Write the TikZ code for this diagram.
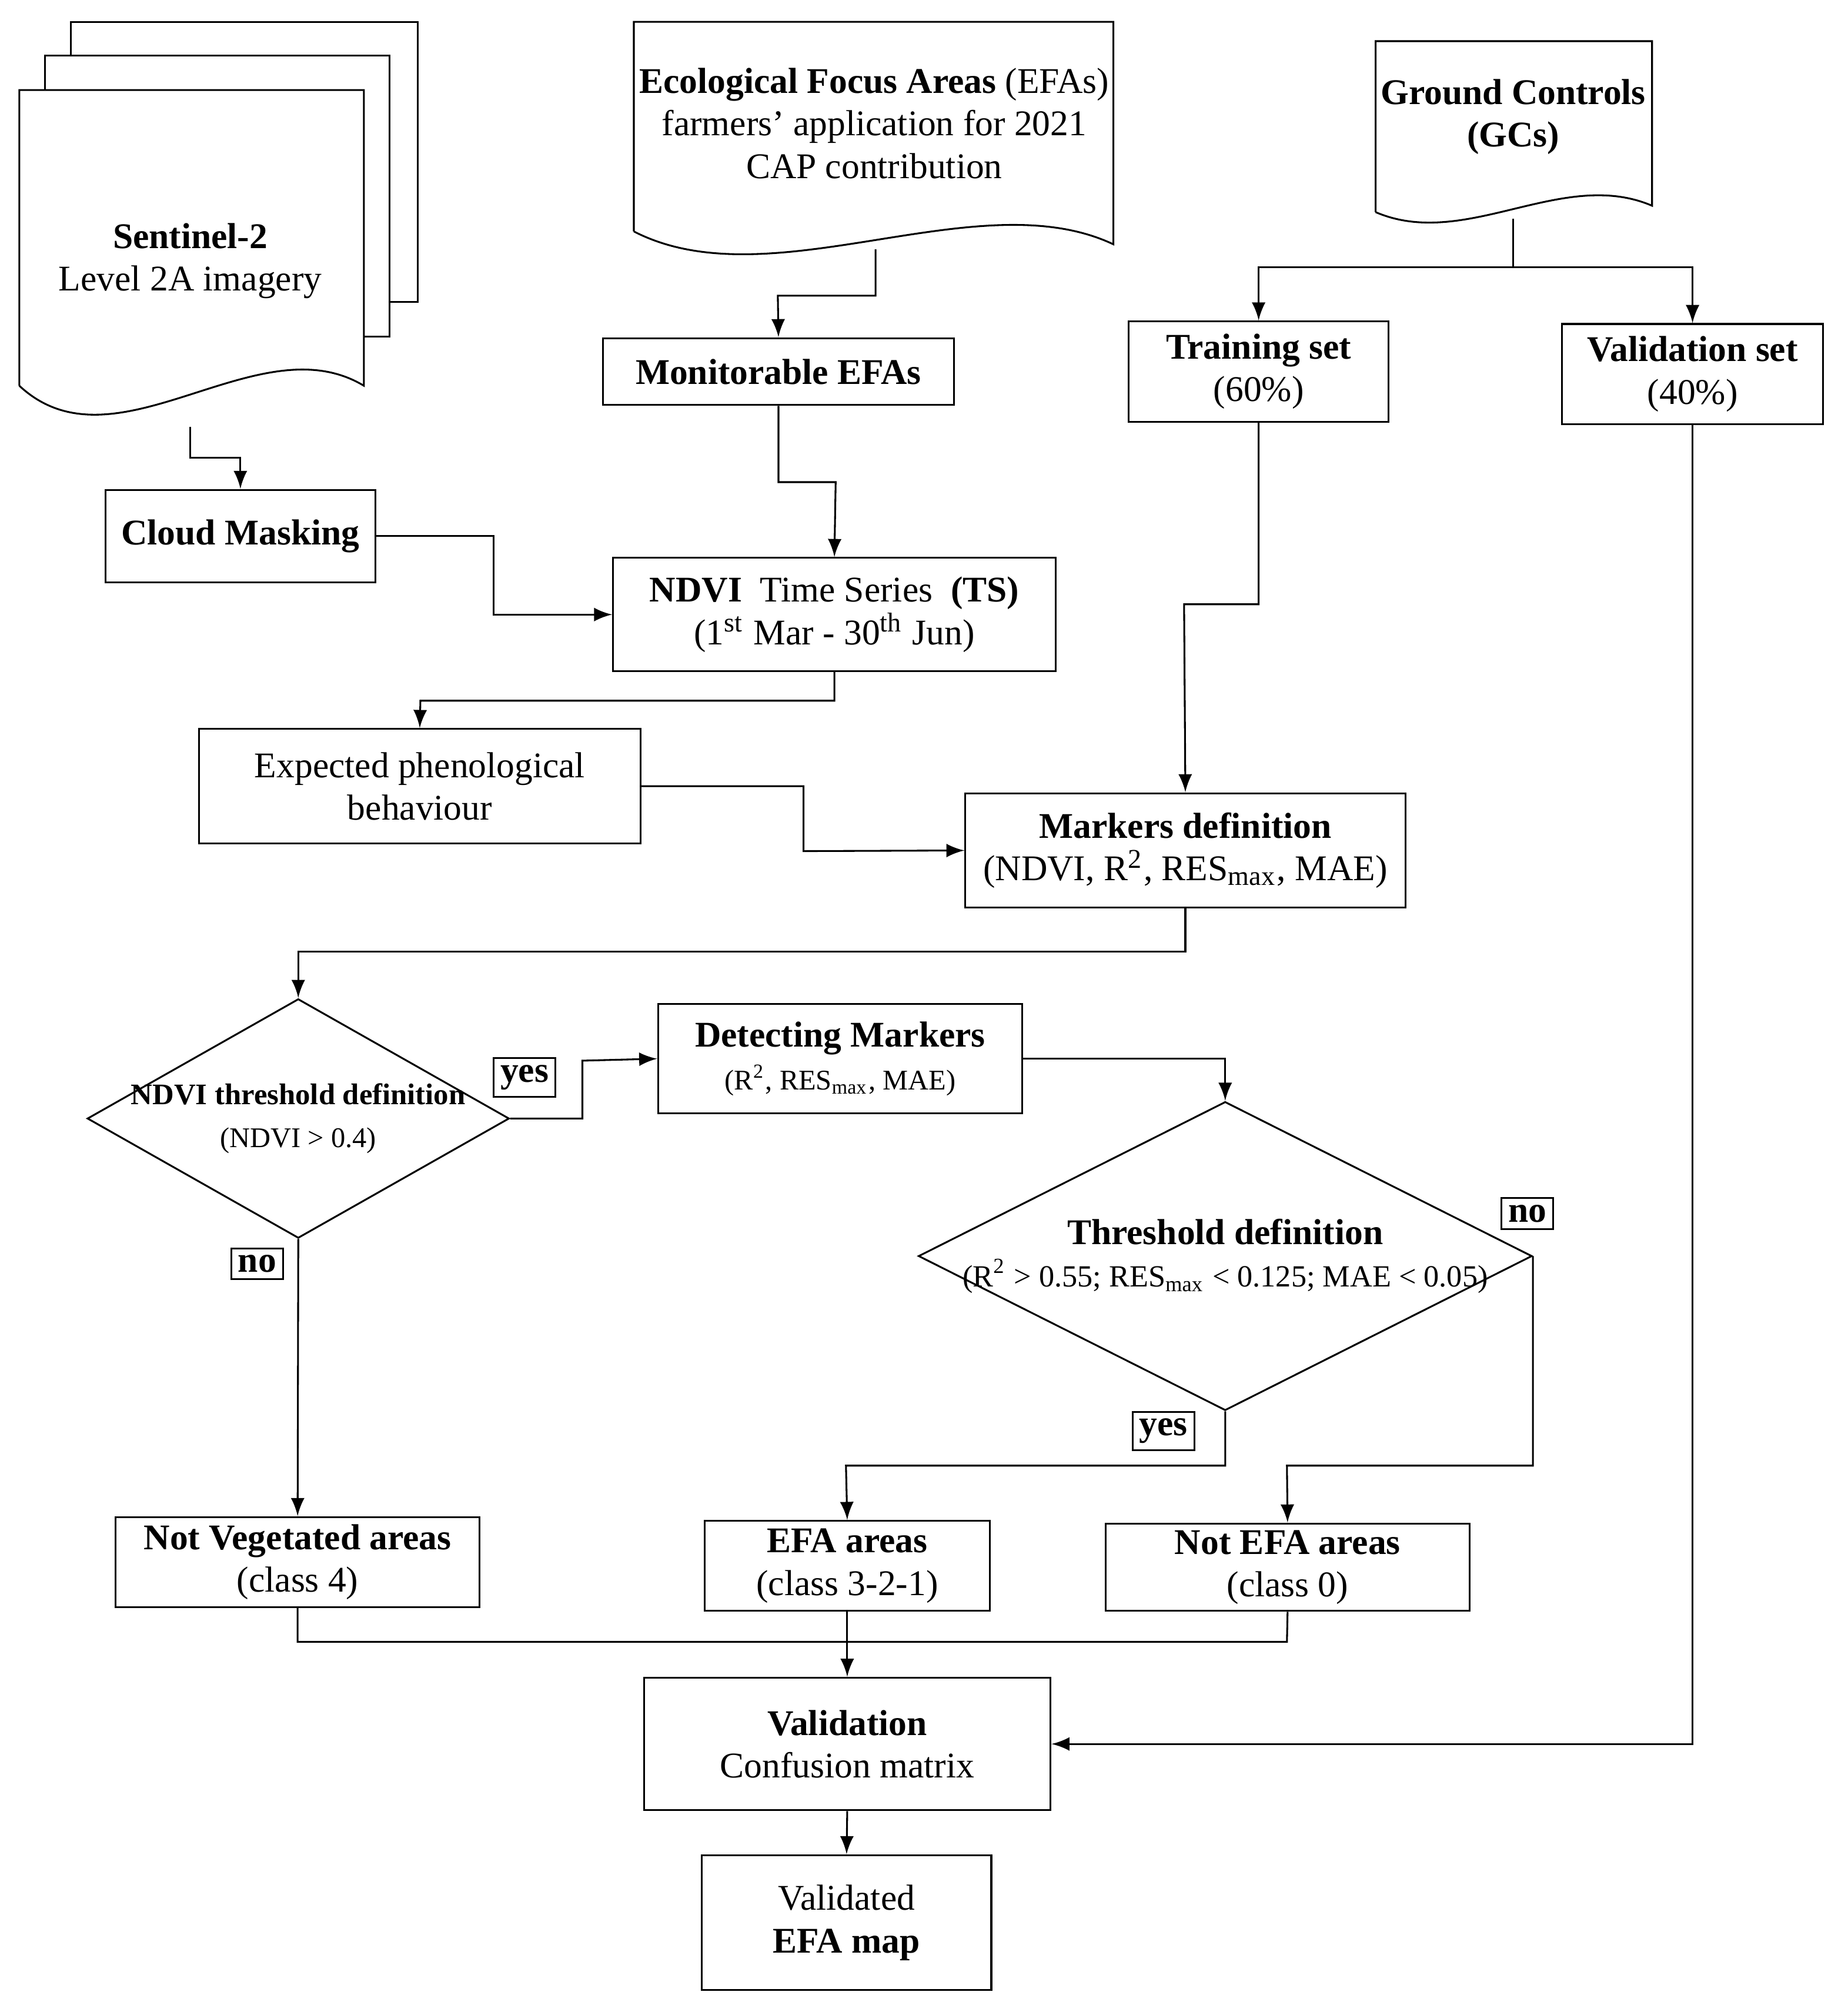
\documentclass[tikz,border=0pt]{standalone}
\usepackage{fontspec}
\setmainfont{Liberation Serif}
\usetikzlibrary{arrows,shapes.geometric,positioning}
\tikzset{box/.style={draw,align=center,inner sep=1pt,font=\fontsize{8}{9.4}\selectfont},
lab/.style={draw,inner sep=1.5pt,font=\fontsize{8}{9.4}\selectfont\bfseries},
dia/.style={draw,shape=diamond,align=center,inner sep=0pt},
doc/.style={draw,fill=white},
txt/.style={align=center,font=\fontsize{8}{9.4}\selectfont}}
\newcommand{\smalltxt}{\fontsize{6.3}{7.5}\selectfont}

\begin{document}
\begin{tikzpicture}[x=0.01cm,y=-0.01cm,>=latex,thin]
\useasboundingbox (0,0) rectangle (1437,1565);

% Documents
\draw[doc] (55,17) rectangle (325,235);
\draw[doc] (35,43) rectangle (303,262);
\draw[doc] (15,300) -- (15,70) -- (283,70) -- (283,300) .. controls (200,250) and (90,370) .. (15,300);
\draw[doc] (493,180) -- (493,17) -- (866,17) -- (866,190) .. controls (760,140) and (600,235) .. (493,180);
\draw[doc] (1070,165) -- (1070,32) -- (1285,32) -- (1285,160) .. controls (1215,130) and (1140,195) .. (1070,165);
\node[txt] (s2) at (148,203) {\textbf{Sentinel-2}\\Level 2A imagery};
\node[txt] (efadoc) at (680,96) {\textbf{Ecological Focus Areas} (EFAs)\\farmers' application for 2021\\CAP contribution};
\node[txt] (gc) at (1177,91) {\textbf{Ground Controls}\\\textbf{(GCs)}};
\coordinate (s2b) at (148,332);
\coordinate (efab) at (681,194);
\coordinate (gcb) at (1177,170);

% Boxes
\node[box,minimum width=2.73cm,minimum height=0.52cm] (mon) at (605.5,289) {\textbf{Monitorable EFAs}};
\node[box,minimum width=2.10cm,minimum height=0.72cm] (cloud) at (187,417) {\textbf{Cloud Masking}};
\node[box,minimum width=3.44cm,minimum height=0.88cm] (ndvi) at (649,478) {\textbf{NDVI}~ Time Series ~\textbf{(TS)}\\(1\textsuperscript{st} Mar - 30\textsuperscript{th} Jun)};
\node[box,minimum width=2.02cm,minimum height=0.78cm] (train) at (979,289) {\textbf{Training set}\\(60\%)};
\node[box,minimum width=2.03cm,minimum height=0.78cm] (valset) at (1316.5,291) {\textbf{Validation set}\\(40\%)};
\node[box,minimum width=3.43cm,minimum height=0.89cm] (exp) at (326.5,611.5) {Expected phenological\\behaviour};
\node[box,minimum width=3.42cm,minimum height=0.89cm] (mark) at (922,661.5) {\textbf{Markers definition}\\(NDVI, R\textsuperscript{2}, RES\textsubscript{max}, MAE)};
\node[box,minimum width=2.83cm,minimum height=0.85cm] (detect) at (653.5,823.5) {\textbf{Detecting Markers}\\{\smalltxt(R\textsuperscript{2}, RES\textsubscript{max}, MAE)}};
\node[dia,minimum width=3.28cm,minimum height=1.86cm] (thr1) at (232,870) {};
\node[txt] at (thr1) {\fontsize{6.6}{8.5}\selectfont\textbf{NDVI threshold definition}\\{\smalltxt(NDVI > 0.4)}};
\node[dia,minimum width=4.77cm,minimum height=2.40cm] (thr2) at (953,977) {};
\node[txt] at (thr2) {\textbf{Threshold definition}\\{\fontsize{6.8}{8}\selectfont(R\textsuperscript{2} > 0.55; RES\textsubscript{max} < 0.125; MAE < 0.05)}};
\node[box,minimum width=2.83cm,minimum height=0.70cm] (notveg) at (231.5,1215) {\textbf{Not Vegetated areas}\\(class 4)};
\node[box,minimum width=2.22cm,minimum height=0.70cm] (efa) at (659,1218) {\textbf{EFA areas}\\(class 3-2-1)};
\node[box,minimum width=2.83cm,minimum height=0.68cm] (notefa) at (1001.5,1219) {\textbf{Not EFA areas}\\(class 0)};
\node[box,minimum width=3.16cm,minimum height=1.03cm] (valid) at (659,1356.5) {\textbf{Validation}\\Confusion matrix};
\node[box,minimum width=2.25cm,minimum height=1.05cm] (map) at (658.5,1495.5) {Validated\\\textbf{EFA map}};

% Labels
\node[lab] (yes1) at (408,838) {yes};
\node[lab] (no1) at (200,983) {no};
\node[lab] (yes2) at (905,1113) {yes};
\node[lab] (no2) at (1188,944) {no};

% Connectors
\draw[->] (s2b) |- (187,356) -- (cloud.north);
\draw[->] (efab) |- (605,230) -- (mon.north);
\draw[->] (mon.south) |- (650,375) -- (ndvi.north);
\draw[->] (cloud.east) -| (384,478) -- (ndvi.west);
\draw (gcb) -- (1177,208);
\draw[->] (1177,208) -| (train.north);
\draw[->] (1177,208) -| (valset.north);
\draw[->] (train.south) |- (921,470) -- (mark.north);
\draw[->] (ndvi.south) |- (327,545) -- (exp.north);
\draw[->] (exp.east) -| (625,662) -- (mark.west);
\draw[->] (mark.south) |- (232,740) -- (thr1.north);
\draw[->] (thr1.east) -| (453,825) -- (detect.west);
\draw[->] (detect.east) -| (thr2.north);
\draw[->] (thr1.south) -- (notveg.north);
\draw[->] (thr2.south) |- (658,1140) -- (efa.north);
\draw[->] (thr2.east) |- (1001,1140) -- (notefa.north);
\draw (notveg.south) |- (1001,1277) -- (notefa.south);
\draw[->] (efa.south) -- (valid.north);
\draw[->] (valset.south) |- (valid.east);
\draw[->] (valid.south) -- (map.north);
\end{tikzpicture}
\end{document}
